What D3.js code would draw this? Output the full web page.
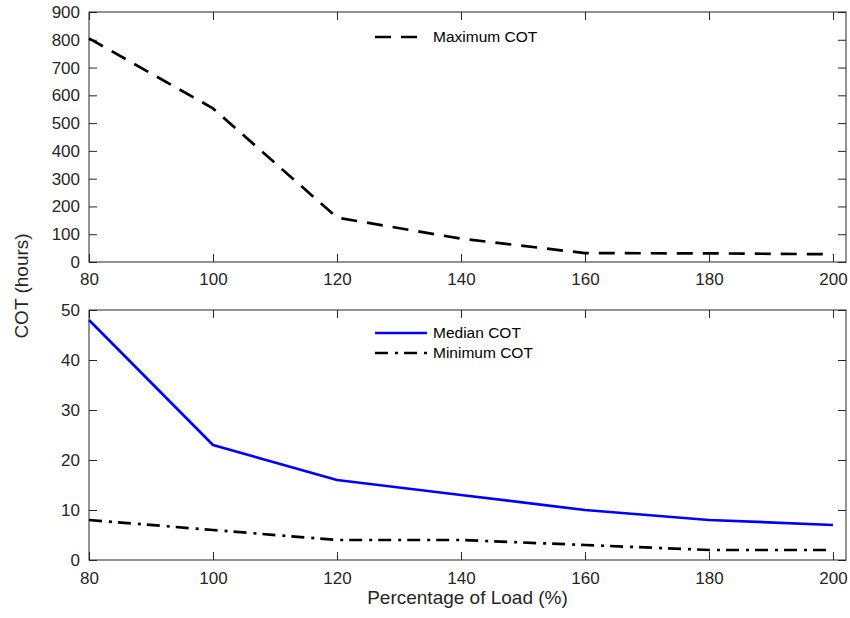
<!DOCTYPE html>
<html>
<head>
<meta charset="utf-8">
<script src="https://cdn.jsdelivr.net/npm/d3@7"></script>
<style>
  html, body { margin: 0; padding: 0; background: #fff; }
  svg { display: block; font-family: "Liberation Sans", Arial, Helvetica, sans-serif; }
</style>
</head>
<body>
<svg id="chart" width="850" height="618"></svg>
<script>
// Load levels (% of rated load)
const loads = [80, 100, 120, 140, 160, 180, 200];
// Cumulative operating time, hours
const maxCOT    = [805, 553, 160, 84, 32, 31, 28];
const medianCOT = [48, 23, 16, 13, 10, 8, 7];
const minCOT    = [8, 6, 4, 4, 3, 2, 2];

const xTicks = [80, 100, 120, 140, 160, 180, 200];
const yTicksTop = [0, 100, 200, 300, 400, 500, 600, 700, 800, 900];
const yTicksBottom = [0, 10, 20, 30, 40, 50];

const svg = d3.select("#chart");
const axisColor = "#262626";
const tickFont = "17px", labelFont = "19px", legendFont = "15.5px";

const left = 89, right = 846;
const x = d3.scaleLinear().domain([80, 202.1]).range([left, right]);

const panels = [
  { top: 12, bottom: 262, yDomain: [0, 900], yTicks: yTicksTop, labelPad: 11 },
  { top: 310, bottom: 560, yDomain: [0, 50], yTicks: yTicksBottom, labelPad: 12 }
];
panels.forEach(p => {
  p.y = d3.scaleLinear().domain(p.yDomain).range([p.bottom, p.top]);
});

function drawAxes(p) {
  const g = svg.append("g");
  // inward ticks on all four sides
  g.append("g").attr("transform", `translate(0,${p.bottom})`)
    .call(d3.axisBottom(x).tickValues(xTicks).tickSize(-8).tickSizeOuter(0)
      .tickPadding(p.labelPad).tickFormat(d3.format("d")));
  g.append("g").attr("transform", `translate(0,${p.top})`)
    .call(d3.axisTop(x).tickValues(xTicks).tickSize(-8).tickSizeOuter(0).tickFormat(""));
  g.append("g").attr("transform", `translate(${left},0)`)
    .call(d3.axisLeft(p.y).tickValues(p.yTicks).tickSize(-8).tickSizeOuter(0)
      .tickPadding(9).tickFormat(d3.format("d")));
  g.append("g").attr("transform", `translate(${right},0)`)
    .call(d3.axisRight(p.y).tickValues(p.yTicks).tickSize(-8).tickSizeOuter(0).tickFormat(""));
  g.selectAll(".domain").remove();
  g.selectAll(".tick line").attr("stroke", axisColor);
  g.selectAll(".tick text").attr("fill", axisColor)
    .style("font-size", tickFont)
    .style("font-family", "'Liberation Sans', Arial, Helvetica, sans-serif");
  // frame
  svg.append("rect")
    .attr("x", left).attr("y", p.top)
    .attr("width", right - left).attr("height", p.bottom - p.top)
    .attr("fill", "none").attr("stroke", axisColor).attr("stroke-width", 1);
}

function drawLine(p, values, color, dash) {
  const line = d3.line().x((d, i) => x(loads[i])).y(d => p.y(d));
  svg.append("path")
    .datum(values)
    .attr("d", line)
    .attr("fill", "none")
    .attr("stroke", color)
    .attr("stroke-width", 2.7)
    .attr("stroke-dasharray", dash)
    .attr("stroke-linejoin", "round");
}

function legendEntry(x0, x1, yy, text, color, dash) {
  svg.append("line")
    .attr("x1", x0).attr("x2", x1).attr("y1", yy).attr("y2", yy)
    .attr("stroke", color).attr("stroke-width", 2.7)
    .attr("stroke-dasharray", dash);
  svg.append("text")
    .attr("x", 433).attr("y", yy).attr("dy", "0.35em")
    .attr("fill", "#000").style("font-size", legendFont)
    .text(text);
}

const dashed = "16,10";
const dashDot = "13,7,3,6";

// upper panel: maximum COT
drawAxes(panels[0]);
drawLine(panels[0], maxCOT, "#000", dashed);
legendEntry(375, 420, 37, "Maximum COT", "#000", dashed);

// lower panel: median and minimum COT
drawAxes(panels[1]);
drawLine(panels[1], medianCOT, "#0000ff", null);
drawLine(panels[1], minCOT, "#000", dashDot);
legendEntry(375, 427, 333, "Median COT", "#0000ff", null);
legendEntry(375, 427, 353, "Minimum COT", "#000", dashDot);

// axis titles
svg.append("text")
  .attr("x", (left + right) / 2).attr("y", 604)
  .attr("text-anchor", "middle").attr("fill", axisColor)
  .style("font-size", labelFont)
  .text("Percentage of Load (%)");

svg.append("text")
  .attr("transform", "translate(28,286) rotate(-90)")
  .attr("text-anchor", "middle").attr("fill", axisColor)
  .style("font-size", labelFont)
  .text("COT (hours)");
</script>
</body>
</html>
